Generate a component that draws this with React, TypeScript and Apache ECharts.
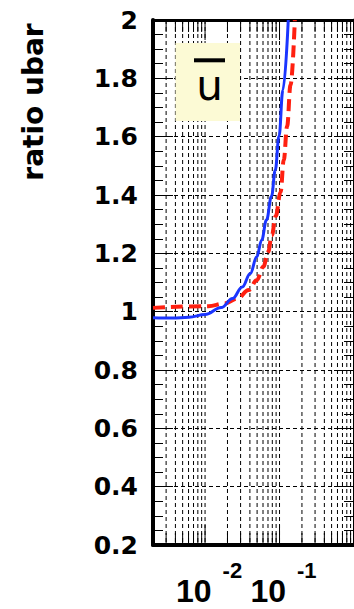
import React, { useEffect, useRef } from "react";
import * as echarts from "echarts";

// Axis ranges and ticks
const xMin = 0.002;
const xMax = 1;
const yMin = 0.2;
const yMax = 2;
const yStep = 0.2;
const xTickValues = [
  0.002, 0.003, 0.004, 0.005, 0.006, 0.007, 0.008, 0.009,
  0.01, 0.02, 0.03, 0.04, 0.05, 0.06, 0.07, 0.08, 0.09,
  0.1, 0.2, 0.3, 0.4, 0.5, 0.6, 0.7, 0.8, 0.9, 1,
];
const xMajorTicks = [0.01, 0.1, 1];

// Blue solid curve
const blueX = [0.002, 0.00367, 0.00606, 0.01, 0.0165, 0.0234, 0.0316, 0.0405, 0.0495, 0.0575, 0.0668, 0.0781, 0.0876, 0.0985, 0.111, 0.131];
const blueY = [0.979, 0.978, 0.981, 0.99, 1.014, 1.045, 1.085, 1.131, 1.188, 1.245, 1.314, 1.396, 1.485, 1.602, 1.76, 2.0];

// Red dashed curve
const redX = [0.002, 0.01104, 0.01824, 0.02717, 0.03862, 0.0495, 0.06053, 0.07031, 0.0788, 0.08892, 0.1033, 0.114, 0.1265, 0.1405, 0.1605];
const redY = [1.013, 1.019, 1.028, 1.045, 1.074, 1.108, 1.154, 1.205, 1.262, 1.328, 1.41, 1.52, 1.636, 1.777, 2.0];

const yTitle = "ratio ubar";
const boxLabel = "u";

export default function App() {
  const ref = useRef<HTMLDivElement>(null);
  useEffect(() => {
    if (!ref.current) return;
    const chart = echarts.init(ref.current, null, { renderer: "svg" });
    const black = "#000";
    const option: any = {
      animation: false,
      backgroundColor: "#fff",
      grid: { left: 153, right: -6, top: 20, bottom: 64, containLabel: false },
      xAxis: [
        {
          type: "log",
          logBase: 10,
          min: xMin,
          max: xMax,
          position: "bottom",
          axisLine: { show: true, lineStyle: { color: black, width: 4 } },
          axisTick: { show: false },
          splitLine: { show: false },
          minorTick: { show: false },
          axisLabel: {
            show: true,
            showMinLabel: false,
            showMaxLabel: false,
            margin: 14,
            padding: [0, 0, 0, 8],
            formatter: (v: number) => {
              const e = Math.round(Math.log10(v));
              return "{b|10}{s|" + (e < 0 ? "-" + -e : String(e)) + "}";
            },
            rich: {
              b: {
                fontSize: 32,
                fontFamily: "Liberation Sans",
                fontWeight: "bold",
                color: black,
                lineHeight: 64,
              },
              s: {
                fontSize: 22,
                fontFamily: "Liberation Sans",
                fontWeight: "bold",
                color: black,
                lineHeight: 22,
                verticalAlign: "top",
                padding: [0, 0, 0, 11],
              },
            },
          },
        },
        {
          type: "log",
          logBase: 10,
          min: xMin,
          max: xMax,
          position: "top",
          axisLine: { show: true, lineStyle: { color: black, width: 3 } },
          axisTick: { show: false },
          axisLabel: { show: false },
          splitLine: { show: false },
        },
      ],
      yAxis: [
        {
          type: "value",
          min: yMin,
          max: yMax,
          interval: yStep,
          position: "left",
          axisLine: { show: true, lineStyle: { color: black, width: 4 } },
          axisTick: { show: true, inside: true, length: 20, lineStyle: { color: black, width: 1 } },
          minorTick: { show: true, splitNumber: 4, length: 10, lineStyle: { color: black, width: 1 } },
          splitLine: { show: true, lineStyle: { color: black, width: 1, type: [4, 3] } },
          axisLabel: {
            margin: 15,
            fontFamily: "DejaVu Sans",
            fontWeight: "bold",
            fontSize: 25,
            color: black,
            formatter: (v: number) => String(+v.toFixed(1)),
          },
        },
        {
          type: "value",
          min: yMin,
          max: yMax,
          interval: yStep,
          position: "right",
          axisLine: { show: true, lineStyle: { color: black, width: 3 } },
          axisTick: { show: true, inside: true, length: 20, lineStyle: { color: black, width: 1 } },
          minorTick: { show: true, splitNumber: 4, length: 10, lineStyle: { color: black, width: 1 } },
          splitLine: { show: false },
          axisLabel: { show: false },
        },
      ],
      series: [
        {
          type: "custom",
          name: "xgrid",
          xAxisIndex: 0,
          yAxisIndex: 0,
          silent: true,
          z: 1,
          encode: { x: 0 },
          data: xTickValues.map((v) => [v, xMajorTicks.indexOf(v) >= 0 ? 1 : 0]),
          renderItem: (params: any, api: any) => {
            const v = api.value(0);
            const major = api.value(1) === 1;
            const top = api.coord([v, yMax]);
            const bot = api.coord([v, yMin]);
            const len = major ? 20 : 12;
            return {
              type: "group",
              children: [
                {
                  type: "line",
                  shape: { x1: top[0], y1: top[1], x2: bot[0], y2: bot[1] },
                  style: { stroke: black, lineWidth: 1, lineDash: [4, 3] },
                },
                {
                  type: "line",
                  shape: { x1: bot[0], y1: bot[1], x2: bot[0], y2: bot[1] - len },
                  style: { stroke: black, lineWidth: 1 },
                },
                {
                  type: "line",
                  shape: { x1: top[0], y1: top[1], x2: top[0], y2: top[1] + len },
                  style: { stroke: black, lineWidth: 1 },
                },
              ],
            };
          },
        },
        {
          type: "line",
          name: "red",
          z: 3,
          showSymbol: false,
          smooth: 0.4,
          smoothMonotone: "x",
          data: redX.map((x, i) => [x, redY[i]]),
          lineStyle: { color: "#ff2010", width: 4, type: [12, 6] },
        },
        {
          type: "line",
          name: "blue",
          z: 4,
          showSymbol: false,
          smooth: 0.4,
          smoothMonotone: "x",
          data: blueX.map((x, i) => [x, blueY[i]]),
          lineStyle: { color: "#1a35ff", width: 3 },
        },
      ],
      graphic: [
        {
          type: "text",
          x: 33,
          y: 102,
          rotation: Math.PI / 2,
          style: {
            text: yTitle,
            fill: black,
            font: "bold 28px 'DejaVu Sans'",
            align: "center",
            verticalAlign: "middle",
          },
          z: 100,
        },
        {
          type: "rect",
          shape: { x: 175.5, y: 43, width: 64.5, height: 78 },
          style: { fill: "#fcfad5" },
          z: 100,
        },
        {
          type: "rect",
          shape: { x: 194, y: 58.3, width: 31, height: 4 },
          style: { fill: black },
          z: 101,
        },
        {
          type: "text",
          x: 209.5,
          y: 85.5,
          style: {
            text: boxLabel,
            fill: black,
            font: "42px 'DejaVu Sans'",
            align: "center",
            verticalAlign: "middle",
          },
          z: 101,
        },
      ],
    };
    chart.setOption(option);
    return () => chart.dispose();
  }, []);
  return (
    <div
      ref={ref}
      style={{ position: "fixed", left: 0, top: 0, width: 354, height: 609 }}
    />
  );
}
